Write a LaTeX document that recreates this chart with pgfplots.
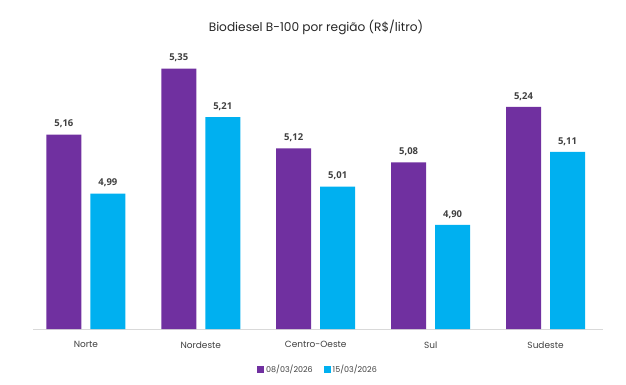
\documentclass[border=0pt]{standalone}
\usepackage{pgfplots}
\pgfplotsset{compat=1.18}
\usepackage{fontspec}
\setmainfont{Poppins}
\newfontfamily\labfont{Open Sans}
\definecolor{cpur}{HTML}{7030A0}
\definecolor{ccyan}{HTML}{00B0F0}
\definecolor{txt}{HTML}{404040}
\begin{document}
\begin{tikzpicture}[x=1bp,y=1bp]
\useasboundingbox (0,0) rectangle (626,384);
\node[font=\fontsize{12.2}{14}\selectfont, text=black!85] at (316,357) {Biodiesel B-100 por região (R\$/litro)};
\begin{axis}[
  at={(33bp,55bp)}, anchor=south west,
  scale only axis, width=570bp, height=277.8bp,
  ybar=9bp, bar width=35bp,
  xmin=-0.46, xmax=4.5, ymin=4.6, ymax=5.4,
  axis y line=none, axis x line*=bottom,
  x axis line style={draw=black!15, line width=0.8pt},
  xtick={0,1,2,3,4},
  xticklabels={Norte,Nordeste,Centro-Oeste,Sul,Sudeste},
  major tick length=0pt,
  xticklabel style={font=\fontsize{9}{10}\selectfont, text=txt, yshift=-9bp},
  point meta=explicit symbolic,
  nodes near coords,
  every node near coord/.append style={font=\labfont\bfseries\fontsize{9.5}{11}\selectfont, text=txt, yshift=3bp},
  legend columns=2,
  legend style={at={(rel axis cs:0.5,0)}, anchor=center, yshift=-40bp, draw=none, font=\fontsize{8}{9}\selectfont, text=txt, /tikz/every even column/.append style={column sep=9bp}},
  legend image code/.code={\fill[#1] (0bp,-3.5bp) rectangle (7bp,3.5bp);},
]
\addplot[fill=cpur, draw=none] coordinates {(0,5.16) [5,16] (1,5.35) [5,35] (2,5.12) [5,12] (3,5.08) [5,08] (4,5.24) [5,24]};
\addplot[fill=ccyan, draw=none] coordinates {(0,4.99) [4,99] (1,5.21) [5,21] (2,5.01) [5,01] (3,4.90) [4,90] (4,5.11) [5,11]};
\legend{08/03/2026, 15/03/2026}
\end{axis}
\end{tikzpicture}
\end{document}
